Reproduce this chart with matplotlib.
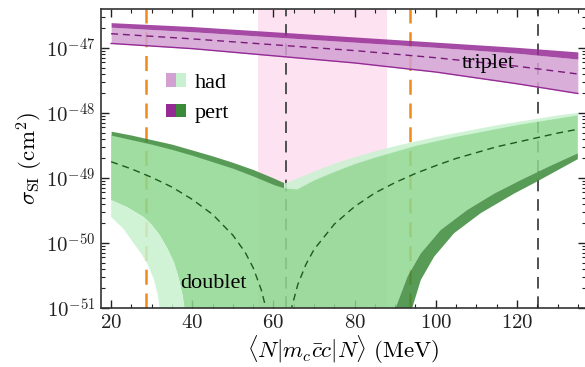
import numpy as np
import matplotlib
matplotlib.use('Agg')
import matplotlib.pyplot as plt
from matplotlib.patches import Patch
from matplotlib.legend_handler import HandlerTuple
from matplotlib.ticker import LogLocator, NullFormatter, MultipleLocator

plt.rcParams['mathtext.fontset'] = 'cm'
plt.rcParams['font.family'] = ['Liberation Serif', 'DejaVu Serif']

# ---------------- data (log10 of sigma_SI in cm^2) ----------------
# triplet
x_trip = [20, 40, 60, 80, 100, 120, 135]
trip_pert_top = [-46.61, -46.67, -46.75, -46.83, -46.91, -46.99, -47.06]
trip_had_top = [-46.68, -46.75, -46.83, -46.91, -46.99, -47.08, -47.17]
trip_central = [-46.78, -46.86, -46.95, -47.04, -47.15, -47.28, -47.40]
trip_had_low = [-46.93, -47.01, -47.12, -47.23, -47.37, -47.55, -47.70]

# doublet, left branch upper band
x_dl = [20, 25, 30, 35, 40, 45, 50, 55, 60, 62.5]
doub_pert_top_left = [-48.28, -48.34, -48.41, -48.48, -48.57, -48.66, -48.76, -48.87, -49.00, -49.07]
doub_had_top_left = [-48.34, -48.41, -48.48, -48.56, -48.65, -48.75, -48.85, -48.97, -49.10, -49.15]

# doublet, right branch upper band
x_dr = [62.5, 65.8, 70, 75, 80, 85, 90, 95, 100, 105, 110, 115, 120, 125, 130, 135]
doub_had_top_right = [-49.08, -49.00, -48.89, -48.77, -48.67, -48.58, -48.50, -48.43, -48.36,
                      -48.30, -48.24, -48.18, -48.13, -48.08, -48.03, -47.99]
doub_mid_top_right = [-49.15, -49.17, -49.03, -48.90, -48.78, -48.68, -48.59, -48.50, -48.43,
                      -48.36, -48.30, -48.24, -48.18, -48.13, -48.08, -48.03]

# doublet, left branch lower band
x_low_mid_left = [20, 24, 28, 30, 32, 34, 35.5, 36.7, 37.6, 38.3]
doub_mid_low_left = [-49.34, -49.45, -49.60, -49.72, -49.88, -50.10, -50.30, -50.55, -50.80, -51.10]
x_low_had_left = [20, 23, 25.5, 27.5, 29, 30.5, 31.5, 32.2]
doub_had_low_left = [-49.60, -49.78, -50.00, -50.17, -50.33, -50.55, -50.80, -51.10]

# doublet, right branch lower band
x_low_mid_right = [89.5, 90.1, 93.0, 96.3, 101.2, 107.8, 114.4, 121.0, 128.0, 135.0]
doub_mid_low_right = [-51.15, -51.00, -50.52, -50.16, -49.80, -49.49, -49.24, -49.03, -48.82, -48.62]
x_low_pert_right = [93.8, 94.2, 96.3, 99.6, 104.5, 111.1, 119.3, 124.2, 128.0, 135.0]
doub_pert_low_right = [-51.15, -51.00, -50.57, -50.21, -49.85, -49.54, -49.24, -49.08, -48.95, -48.71]

# doublet central value
x_cen_left = [20, 25, 30, 35, 40, 45, 50, 53, 55, 57, 58.5]
doub_central_left = [-48.75, -48.86, -48.99, -49.14, -49.33, -49.56, -49.88, -50.14, -50.38, -50.72, -51.09]
x_cen_right = [64.2, 66, 68, 70, 75, 80, 85, 90, 95, 100, 105, 110, 115, 120, 125, 130, 135]
doub_central_right = [-51.06, -50.64, -50.33, -50.10, -49.71, -49.44, -49.23, -49.07, -48.93, -48.81,
                      -48.70, -48.61, -48.52, -48.45, -48.38, -48.31, -48.25]

# reference lines and band
vlines_gray = [63.2, 125.2]
vlines_orange = [28.6, 93.7]
had_band = (56.3, 88.1)

xticks = [20, 40, 60, 80, 100, 120]
yticks_exp = [-51, -50, -49, -48, -47]

# ---------------- colours ----------------
c_pink = '#fde3f1'
c_lpurple = '#d3a0d3'
c_dpurple = '#952a95'
c_mid = '#8ed890'
c_mint = '#c8f2cf'
c_dgreen = '#3a8a3a'
c_orange = '#f08a1a'
c_gray = '#505050'
alpha = 0.85

def P(v):
    return 10.0 ** np.asarray(v, dtype=float)

fig = plt.figure(figsize=(5.85, 3.67), dpi=100)
ax = fig.add_axes([0.1726, 0.1608, 0.8290, 0.8147])
ax.set_yscale('log')
ax.set_xlim(17.5, 137.0)
ax.set_ylim(1e-51, 10 ** -46.4)

ax.axvspan(had_band[0], had_band[1], color=c_pink, lw=0, zorder=0)
for xv in vlines_gray:
    ax.axvline(xv, color=c_gray, lw=1.4, ls=(0, (6, 4)), zorder=1)
for xv in vlines_orange:
    ax.axvline(xv, color=c_orange, lw=1.8, ls=(0, (6, 3.5)), zorder=1)

# triplet
ax.fill_between(x_trip, P(trip_had_low), P(trip_had_top), color=c_lpurple, alpha=alpha, lw=0, zorder=2)
ax.fill_between(x_trip, P(trip_had_top), P(trip_pert_top), color=c_dpurple, alpha=alpha, lw=0, zorder=2)
ax.plot(x_trip, P(trip_had_low), color=c_dpurple, lw=1.0, zorder=2)
ax.plot(x_trip, P(trip_central), color='#7a1a7a', lw=1.0, ls=(0, (5, 3.5)), zorder=3)

# doublet: medium region
mid_top_x = list(x_dl) + list(x_dr[1:])
mid_top_y = list(doub_had_top_left) + list(doub_mid_top_right[1:])
mid_bot_x = list(x_low_mid_left) + list(x_low_mid_right)
mid_bot_y = list(doub_mid_low_left) + list(doub_mid_low_right)
poly_x = mid_top_x + mid_bot_x[::-1]
poly_y = list(P(mid_top_y)) + list(P(mid_bot_y[::-1]))
ax.fill(poly_x, poly_y, color=c_mid, alpha=alpha, lw=0, zorder=2)

# pert band upper-left
ax.fill_between(x_dl, P(doub_had_top_left), P(doub_pert_top_left), color=c_dgreen, alpha=alpha, lw=0, zorder=2)
# had band upper-right
ax.fill_between(x_dr, P(doub_mid_top_right), P(doub_had_top_right), color=c_mint, alpha=alpha, lw=0, zorder=2)
# had band lower-left
lx = list(x_low_mid_left) + list(x_low_had_left)[::-1]
ly = list(P(doub_mid_low_left)) + list(P(doub_had_low_left))[::-1]
ax.fill(lx, ly, color=c_mint, alpha=alpha, lw=0, zorder=2)
# pert band lower-right
rx = list(x_low_mid_right) + list(x_low_pert_right)[::-1]
ry = list(P(doub_mid_low_right)) + list(P(doub_pert_low_right))[::-1]
ax.fill(rx, ry, color=c_dgreen, alpha=alpha, lw=0, zorder=2)

ax.plot(x_cen_left, P(doub_central_left), color='#1e5a1e', lw=1.0, ls=(0, (5, 3.5)), zorder=3)
ax.plot(x_cen_right, P(doub_central_right), color='#1e5a1e', lw=1.0, ls=(0, (5, 3.5)), zorder=3)

# labels in plot
ax.text(113, 10 ** -47.24, 'triplet', fontsize=16, ha='center', va='center', zorder=4)
ax.text(45.2, 10 ** -50.62, 'doublet', fontsize=16, ha='center', va='center', zorder=4)

# legend
h_had = (Patch(fc=c_lpurple, lw=0), Patch(fc=c_mint, lw=0))
h_pert = (Patch(fc=c_dpurple, lw=0), Patch(fc=c_dgreen, lw=0))
ax.legend([h_had, h_pert], ['had', 'pert'], handler_map={tuple: HandlerTuple(ndivide=None, pad=0)},
          loc='upper left', bbox_to_anchor=(0.134, 0.785), frameon=False, fontsize=16,
          handlelength=0.9, handleheight=0.55, handletextpad=0.4, labelspacing=0.5,
          borderpad=0, borderaxespad=0)

# axes styling
ax.set_xticks(xticks)
ax.set_xticklabels(['$%d$' % t for t in xticks])
ax.xaxis.set_minor_locator(MultipleLocator(5))
ax.set_yticks([10.0 ** e for e in yticks_exp])
ax.set_yticklabels(['$10^{%d}$' % e for e in yticks_exp])
ax.yaxis.set_minor_locator(LogLocator(base=10, subs=np.arange(2, 10)))
ax.yaxis.set_minor_formatter(NullFormatter())
ax.tick_params(which='both', direction='in', top=True, right=True, labelsize=15, colors='#222222')
ax.tick_params(which='major', length=6, width=1.0, pad=4)
ax.tick_params(which='minor', length=3, width=0.8)
for s in ax.spines.values():
    s.set_color('#333333')
    s.set_linewidth(1.2)

ax.set_xlabel(r'$\langle N|m_c\bar{c}c|N\rangle\ (\mathrm{MeV})$', fontsize=16.5, labelpad=1)
ax.set_ylabel(r'$\sigma_{\rm SI}\ (\mathrm{cm}^2)$', fontsize=16.5, labelpad=1)

fig.savefig('out.png', dpi=100)
